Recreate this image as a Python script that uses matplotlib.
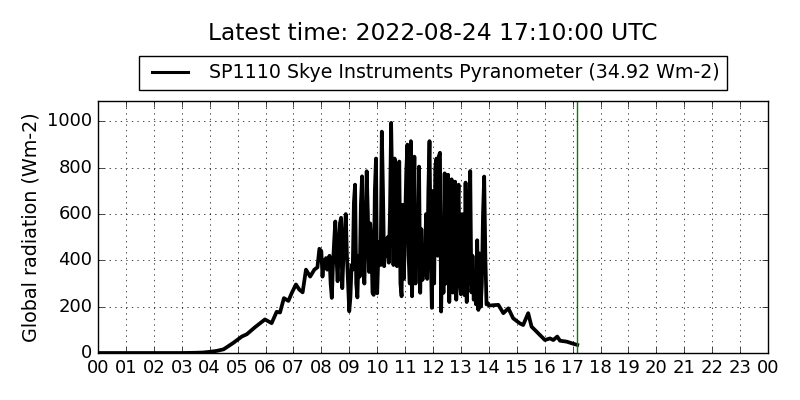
import numpy as np
import matplotlib.pyplot as plt

plt.style.use('classic')

# night and morning ramp (hours, Wm-2)
early_hours = [0, 1, 2, 3, 3.5, 3.75, 4.0, 4.25, 4.5, 4.85, 5.15, 5.33, 5.62, 5.98,
               6.22, 6.4, 6.52, 6.66, 6.82, 6.94, 7.09, 7.21, 7.33, 7.45, 7.6, 7.75,
               7.86, 7.93]
early_values = [0, 0, 0, 0, 1, 2, 5, 9, 16, 44, 71, 81, 111, 145,
                129, 178, 175, 237, 225, 259, 296, 274, 262, 360, 330, 360,
                370, 450]

# broken cloud period, one reading every 2.5 minutes from 08:00 to 14:00
dense_start = 8.0
dense_step = 2.5 / 60.0
dense_values = [440, 330, 400, 370, 410, 360, 400, 420, 300, 238, 380, 480,
                568, 420, 310, 450, 560, 584, 280, 420, 500, 600, 420, 300,
                180, 240, 380, 360, 650, 727, 300, 240, 420, 330, 640, 763,
                380, 300, 500, 785, 600, 350, 560, 480, 260, 251, 700, 840,
                258, 420, 480, 380, 956, 700, 375, 480, 420, 500, 390, 600,
                994, 700, 380, 840, 520, 375, 700, 827, 300, 245, 640, 320,
                560, 780, 900, 420, 300, 915, 245, 520, 848, 300, 600, 380,
                805, 260, 535, 316, 450, 340, 600, 320, 700, 915, 450, 195,
                700, 300, 800, 840, 420, 850, 865, 179, 500, 260, 776, 300,
                600, 770, 220, 680, 750, 261, 500, 740, 230, 600, 727, 300,
                254, 600, 597, 250, 736, 220, 700, 300, 786, 262, 420, 230,
                300, 210, 487, 186, 430, 200, 300, 600, 762, 420, 210, 215,
                205]

# afternoon decline up to the latest reading
late_hours = [14.34, 14.52, 14.7, 14.87, 15.11, 15.23, 15.41, 15.53, 15.77,
              16.01, 16.19, 16.31, 16.45, 16.55, 16.79, 16.97, 17.1667]
late_values = [208, 172, 193, 150, 128, 121, 172, 114, 85,
               56, 63, 56, 71, 53, 49, 42, 34.92]

latest = 17 + 10 / 60.0
hour_labels = ['%02d' % (h % 24) for h in range(25)]

dense_hours = dense_start + dense_step * np.arange(len(dense_values))
hours = np.concatenate([early_hours, dense_hours, late_hours])
radiation = np.concatenate([early_values, dense_values, late_values])

fig = plt.figure(figsize=(8, 4), dpi=100, facecolor='white')
ax = fig.add_axes([0.1225, 0.1175, 0.8375, 0.63])

ax.plot(hours, radiation, color='k', lw=2.7,
        label='SP1110 Skye Instruments Pyranometer (34.92 Wm-2)')
ax.axvline(latest, color='green', lw=1)

ax.set_xlim(0, 24)
ax.set_ylim(0, radiation.max() * 1.095)
ax.set_xticks(range(25))
ax.set_xticklabels(hour_labels)
ax.set_yticks([0, 200, 400, 600, 800, 1000])
ax.tick_params(labelsize=13)
ax.grid(True)
ax.set_ylabel('Global radiation (Wm-2)', fontsize=13.8)

leg = ax.legend(loc='lower center', bbox_to_anchor=(0.5, 1.044), fontsize=13.7,
                fancybox=False, handlelength=2.5, borderaxespad=0)
leg.get_lines()[0].set_linewidth(2.2)
fig.text(433 / 800.0, 1 - 34 / 400.0, 'Latest time: 2022-08-24 17:10:00 UTC',
         fontsize=16.8, ha='center', va='center')

fig.savefig('out.png', dpi=100, facecolor='white')
